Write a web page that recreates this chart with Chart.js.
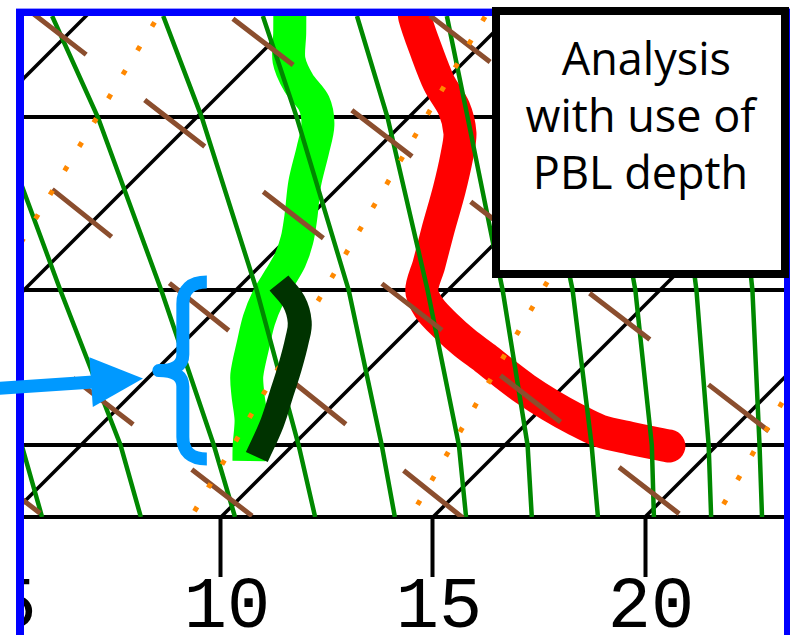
<!DOCTYPE html>
<html><head><meta charset="utf-8">
<script src="https://cdn.jsdelivr.net/npm/chart.js@4/dist/chart.umd.min.js"></script>
<style>
html,body{margin:0;padding:0;background:#fff;}
#wrap{position:relative;width:790px;height:635px;overflow:hidden;background:#fff;}
#c{display:block;}
#note{position:absolute;left:492px;top:7px;width:297px;height:271px;box-sizing:border-box;border:8px solid #000;background:#fff;font-family:'Open Sans',sans-serif;font-size:45px;line-height:57px;text-align:center;color:#000;padding-top:14px;}
</style></head><body>
<div id="wrap"><canvas id="c" width="790" height="635"></canvas>
<div id="note">&nbsp;Analysis<br>with use of<br>PBL depth</div></div>
<script>
// ---- axis / diagram definition ----
const P_REF = 1050;          // hPa at the bottom axis
const P_TOP = 746.7;         // hPa at the top edge
const SKEW = 34.665;         // °C of skew per ln(p) unit
const xTickValues = [5, 10, 15, 20];
const isobars = [800, 900, 1000];
const isotherms = [-5, 0, 5, 10, 15, 20];

// pressure levels at which the moist adiabats were read
const guideLevels = [1050, 1000, 900, 800, 746.7];
// saturated adiabats: temperature (°C) at guideLevels
const moistAdiabats = [
  [5.78, 3.61, -1.46],
  [8.11, 5.94, 0.87, -4.72, -7.97],
  [10.33, 8.14, 3.25, -2.33, -5.80],
  [12.22, 10.14, 5.50, 0.12, -3.18],
  [14.10, 12.10, 7.67, 2.36, -0.83],
  [15.78, 13.92, 9.53, 4.50, 1.39],
  [17.33, 15.54, 11.30, 6.39, 3.51],
  [18.89, 17.05, 12.95, 8.04, 5.14],
  [20.21, 18.47, 14.43, 9.62, 6.84],
  [21.56, 19.81, 15.87, 11.27, 8.54],
  [22.76, 21.01, 17.19, 12.69, 10.07]
];
// dry adiabats: [T1, p1, T2, p2]
const dryAdiabats = [
  [-6.60, 742.7, 23.28, 1081.9],
  [-1.47, 748.1, 23.86, 1027.9],
  [3.10, 746.5, 26.89, 1005.9],
  [-6.68, 788.3, 18.15, 1083.8],
  [-1.73, 897.7, 12.71, 1075.9],
  [3.13, 1014.8, 8.14, 1080.6]
];
// mixing ratio lines: [T1, p1, T2, p2]
const mixingRatioLines = [
  [-3.46, 737.7, -0.71, 902.2],
  [4.20, 735.3, 9.43, 1060.0],
  [11.67, 865.7, 14.64, 1062.6],
  [20.29, 955.4, 21.79, 1057.9]
];

// ---- soundings ----
const tempP = [741.2, 747.3, 764.2, 781.6, 795.0, 808.6, 820.8, 840.6, 863.8, 884.6, 900.0, 910.8, 921.4, 932.8, 942.4, 952.7, 962.4, 973.0, 982.3, 990.3, 995.1, 1000.5];
const tempT = [2.48, 2.78, 3.82, 4.91, 5.85, 6.58, 7.03, 7.67, 8.35, 8.96, 9.39, 9.98, 10.75, 11.65, 12.48, 13.33, 14.15, 15.12, 16.04, 16.91, 17.78, 18.89];
const dewP = [741.2, 755.5, 769.5, 781.6, 792.3, 804.2, 818.0, 836.6, 856.2, 869.7, 881.6, 892.4, 904.7, 918.3, 934.1, 953.3, 966.4, 982.9, 1000.5, 1010.8];
const dewT = [-0.45, 0.21, 0.83, 1.60, 2.43, 3.04, 3.51, 4.10, 4.81, 5.26, 5.57, 5.75, 5.94, 6.25, 6.70, 7.26, 7.76, 8.42, 8.99, 9.34];
const pblDewP = [895.5, 907.1, 919.6, 930.9, 948.1, 965.1, 985.0, 1008.0];
const pblDewT = [5.85, 6.65, 7.26, 7.62, 8.09, 8.51, 8.99, 9.43];

// ---- annotations (axis x value, pressure) ----
const pblBracket = [9.10, 894.9, 1009.4];
const arrowFrom = [4.55, 962.4];
const arrowTo = [8.16, 955.6];

// ---- build ----
const sx = (T, p) => T + SKEW * Math.log(P_REF / p);
const pts = (Ts, Ps) => Ts.map((t, i) => ({ x: sx(t, Ps[i]), y: Ps[i] }));
function line(data, color, width, order, extra) {
  return Object.assign({ data, showLine: true, borderColor: color, backgroundColor: color,
    borderWidth: width, pointRadius: 0, pointHoverRadius: 0, fill: false, order, clip: 0, tension: 0 }, extra || {});
}
const datasets = [];
isotherms.forEach(T => datasets.push(line(pts([T, T], [1060, 735]), '#000000', 3.5, 20)));
datasets.push(line(pts(tempT, tempP), '#ff0000', 33, 15, { tension: 0.3, borderCapStyle: 'round', borderJoinStyle: 'round' }));
datasets.push(line(pts(dewT, dewP), '#00ff00', 33, 15, { tension: 0.3, borderCapStyle: 'butt', borderJoinStyle: 'round' }));
moistAdiabats.forEach(a => datasets.push(line(pts(a, guideLevels.slice(0, a.length)), '#008800', 4.5, 10)));
dryAdiabats.forEach(d => datasets.push(line(pts([d[0], d[2]], [d[1], d[3]]), '#8b4e2e', 5, 9, { borderDash: [76, 74], borderCapStyle: 'butt' })));
mixingRatioLines.forEach((m, i) => datasets.push(line(pts([m[0], m[2]], [m[1], m[3]]), '#ff8800', 5, 8, { borderDash: i === 1 ? [5, 22.07] : [5, 23.1], borderCapStyle: 'butt' })));
datasets.push(line(pts(pblDewT, pblDewP), '#003300', 24, 1, { tension: 0.4, borderCapStyle: 'butt', borderJoinStyle: 'round' }));

const overlay = {
  id: 'overlay',
  afterDraw(chart) {
    const ctx = chart.ctx, xs = chart.scales.x, ys = chart.scales.y;
    ctx.save();
    // frame
    ctx.fillStyle = '#ffffff'; ctx.fillRect(0, 0, 16, 635);
    ctx.fillStyle = '#9a9aff'; ctx.fillRect(16, 8, 774, 1);
    ctx.fillStyle = '#0000ff';
    ctx.fillRect(16, 9, 8, 626); ctx.fillRect(16, 9, 774, 7); ctx.fillRect(784, 9, 6, 626);
    // bracket
    const bx = xs.getPixelForValue(pblBracket[0]);
    const yT = ys.getPixelForValue(pblBracket[1]);
    const yB = ys.getPixelForValue(pblBracket[2]);
    const yM = (yT + yB) / 2;
    ctx.strokeStyle = '#0099ff'; ctx.lineWidth = 13; ctx.lineCap = 'butt'; ctx.lineJoin = 'round';
    ctx.beginPath();
    ctx.moveTo(bx + 24, yT);
    ctx.quadraticCurveTo(bx, yT, bx, yT + 22);
    ctx.lineTo(bx, yM - 16);
    ctx.quadraticCurveTo(bx, yM, bx - 24, yM);
    ctx.quadraticCurveTo(bx, yM, bx, yM + 16);
    ctx.lineTo(bx, yB - 22);
    ctx.quadraticCurveTo(bx, yB, bx + 24, yB);
    ctx.stroke();
    // arrow
    const x0 = xs.getPixelForValue(arrowFrom[0]), y0 = ys.getPixelForValue(arrowFrom[1]);
    const x1 = xs.getPixelForValue(arrowTo[0]), y1 = ys.getPixelForValue(arrowTo[1]);
    const L = Math.hypot(x1 - x0, y1 - y0), ux = (x1 - x0) / L, uy = (y1 - y0) / L;
    const hx = x1 - 52 * ux, hy = y1 - 52 * uy, nx = -uy, ny = ux;
    ctx.beginPath(); ctx.moveTo(x0, y0); ctx.lineTo(hx + 2 * ux, hy + 2 * uy); ctx.stroke();
    ctx.fillStyle = '#0099ff';
    ctx.beginPath(); ctx.moveTo(x1, y1); ctx.lineTo(hx + 25 * nx, hy + 25 * ny); ctx.lineTo(hx - 25 * nx, hy - 25 * ny); ctx.closePath(); ctx.fill();
    ctx.restore();
  }
};

new Chart(document.getElementById('c'), {
  type: 'scatter',
  data: { datasets },
  options: {
    responsive: false, animation: false, devicePixelRatio: 1,
    layout: { padding: { left: 24, right: 6, top: 16, bottom: 0 } },
    plugins: { legend: { display: false }, tooltip: { enabled: false } },
    events: [],
    scales: {
      x: {
        type: 'linear', position: 'bottom', bounds: 'data',
        min: 10 - 197 / 42.4, max: 10 + 563 / 42.4,
        afterBuildTicks: s => { s.ticks = xTickValues.map(v => ({ value: v })); },
        afterFit: s => { s.height = 118; s.paddingLeft = 0; s.paddingRight = 0; },
        ticks: { autoSkip: false, maxRotation: 0, minRotation: 0, padding: -12, labelOffset: 6,
          color: '#000', font: { family: 'Liberation Mono', size: 72 } },
        grid: { drawOnChartArea: false, drawTicks: true, tickLength: 60, tickWidth: 4, tickColor: '#000' },
        border: { display: true, color: '#000', width: 4 }
      },
      y: {
        type: 'logarithmic', reverse: true, bounds: 'data',
        min: P_TOP, max: P_REF,
        afterBuildTicks: s => { s.ticks = isobars.map(v => ({ value: v })); },
        afterFit: s => { s.width = 0; s.paddingTop = 0; s.paddingBottom = 0; },
        ticks: { display: false },
        grid: { color: '#000', lineWidth: 4, drawTicks: false },
        border: { display: false }
      }
    }
  },
  plugins: [overlay]
});
</script></body></html>
